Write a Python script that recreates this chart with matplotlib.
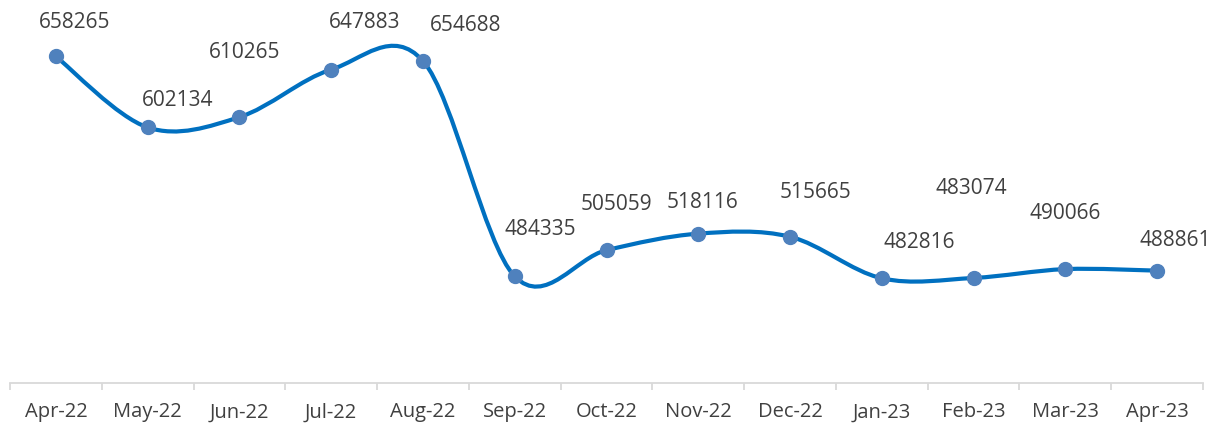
import numpy as np
import matplotlib
matplotlib.use("Agg")
import matplotlib.pyplot as plt
from matplotlib.path import Path
from matplotlib.patches import PathPatch

months = ["Apr-22", "May-22", "Jun-22", "Jul-22", "Aug-22", "Sep-22", "Oct-22",
          "Nov-22", "Dec-22", "Jan-23", "Feb-23", "Mar-23", "Apr-23"]
values = [658265, 602134, 610265, 647883, 654688, 484335, 505059,
          518116, 515665, 482816, 483074, 490066, 488861]
# label offsets in pixels (dx, dy) relative to each point
label_offsets = [(19, 34), (30, 27), (5, 65), (33, 47), (43, 35), (26, 47), (10, 46),
                 (4, 31), (25, 44), (37, 36), (-2, 89), (0, 56), (18, 30)]

W, H, DPI = 1211, 425, 100
fig = plt.figure(figsize=(W / DPI, H / DPI), dpi=DPI)
ax = fig.add_axes([10 / W, 42 / H, (1203 - 10) / W, 1 - 42 / H])
ax.set_xlim(-0.5, len(months) - 0.5)
ax.set_ylim(400000, 702900)

x = np.arange(len(values), dtype=float)
y = np.array(values, dtype=float)

# Excel-like smoothed line: Catmull-Rom converted to cubic Bezier
verts = [(x[0], y[0])]
codes = [Path.MOVETO]
n = len(x)
for i in range(n - 1):
    p0 = np.array([x[max(i - 1, 0)], y[max(i - 1, 0)]])
    p1 = np.array([x[i], y[i]])
    p2 = np.array([x[i + 1], y[i + 1]])
    p3 = np.array([x[min(i + 2, n - 1)], y[min(i + 2, n - 1)]])
    c1 = p1 + (p2 - p0) / 6.0
    c2 = p2 - (p3 - p1) / 6.0
    verts += [tuple(c1), tuple(c2), tuple(p2)]
    codes += [Path.CURVE4] * 3
path = Path(verts, codes)
ax.add_patch(PathPatch(path, facecolor="none", edgecolor="#0070C0", lw=3.0,
                       capstyle="round", joinstyle="round", zorder=2))
ax.plot(x, y, linestyle="none", marker="o", markersize=10,
        markerfacecolor="#4F81BD", markeredgecolor="#4F81BD", zorder=3)

font = ["Open Sans", "DejaVu Sans"]
for xi, yi, v, (dx, dy) in zip(x, y, values, label_offsets):
    ax.annotate(f"{v}", (xi, yi), xytext=(dx * 72 / DPI, dy * 72 / DPI),
                textcoords="offset points", ha="center", va="center",
                fontsize=15, color="#404040", family=font)

for s in ["left", "right", "top"]:
    ax.spines[s].set_visible(False)
ax.spines["bottom"].set_color("#D9D9D9")
ax.spines["bottom"].set_linewidth(1.3)
ax.set_yticks([])
ax.set_xticks(np.arange(-0.5, len(months), 1.0))
ax.set_xticklabels([])
ax.tick_params(axis="x", which="major", length=5, width=1.3, color="#D9D9D9")
ax.set_xticks(x, minor=True)
ax.set_xticklabels(months, minor=True, fontsize=14.5, color="#404040", family=font)
ax.tick_params(axis="x", which="minor", length=0, pad=14)

fig.savefig("out.png", dpi=DPI)
